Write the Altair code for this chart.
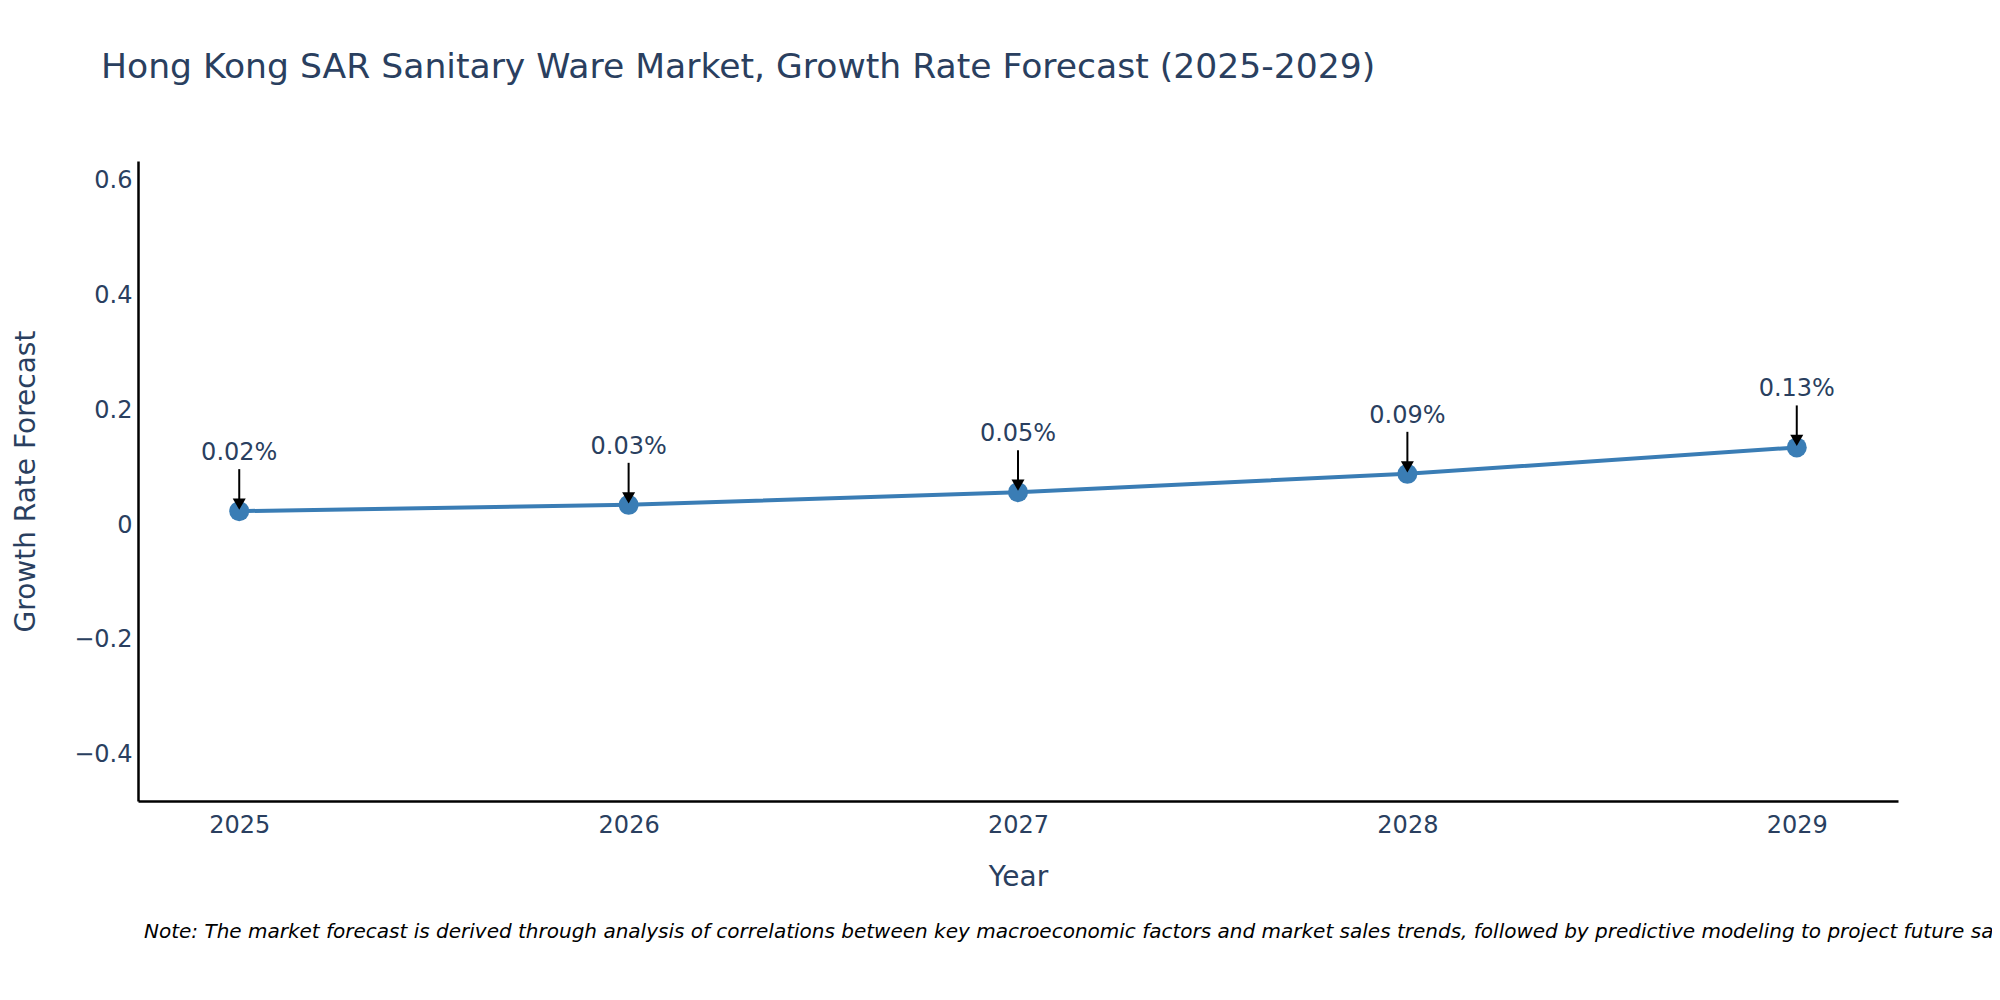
import altair as alt
import pandas as pd

# ---- data ----
years = [2025, 2026, 2027, 2028, 2029]
growth = [0.021, 0.032, 0.054, 0.086, 0.132]
labels = ["0.02%", "0.03%", "0.05%", "0.09%", "0.13%"]
y_ticks = [-0.4, -0.2, 0, 0.2, 0.4, 0.6]
title_text = "Hong Kong SAR Sanitary Ware Market, Growth Rate Forecast (2025-2029)"
note_text = ("Note: The market forecast is derived through analysis of correlations between key "
             "macroeconomic factors and market sales trends, followed by predictive modeling to "
             "project future sales.")

df = pd.DataFrame({"year": years, "growth": growth, "label": labels})
note_df = pd.DataFrame({"t": [note_text]})

FONT = "DejaVu Sans"
LINE_C = "#3a7db5"
TXT_C = "#2a3f5f"

x_enc = alt.X("year:Q",
              scale=alt.Scale(domain=[2024.74, 2029.26], nice=False, zero=False),
              axis=alt.Axis(values=years, format="d", title="Year",
                            labelPadding=12, titlePadding=26))
y_enc = alt.Y("growth:Q",
              scale=alt.Scale(domain=[-0.484, 0.631], nice=False, zero=False),
              axis=alt.Axis(values=y_ticks, format="~g", title="Growth Rate Forecast",
                            labelPadding=6, labelOffset=2, titlePadding=33))

base = alt.Chart(df).encode(x=x_enc, y=y_enc)

line = base.mark_line(color=LINE_C, strokeWidth=4)
pts = base.mark_circle(color=LINE_C, size=400, opacity=1)
shaft = base.mark_rule(color="black", strokeWidth=2, yOffset=-42, y2Offset=-10).encode(
    y2=alt.Y2("growth:Q"))
head = base.mark_point(shape="triangle-down", filled=True, color="black", opacity=1,
                       size=170, yOffset=-7)
txt = base.mark_text(dy=-58, fontSize=24, font=FONT, color=TXT_C).encode(text="label:N")

note = alt.Chart(note_df).mark_text(align="left", baseline="middle", fontSize=20,
                                    fontStyle="italic", font=FONT, color="black").encode(
    x=alt.value(6), y=alt.value(771), text="t:N")

chart = alt.layer(line, pts, shaft, head, txt, note).properties(
    width=1760, height=640,
    title=alt.TitleParams(text=title_text, anchor="start", frame="group", fontSize=34.6,
                          font=FONT, color=TXT_C, fontWeight="normal", dx=-37, offset=75),
    autosize=alt.AutoSizeParams(type="none"),
    padding={"left": 130, "top": 153, "right": 94, "bottom": 191},
    background="white",
).configure_view(stroke="transparent").configure_axis(
    domainColor="black", domainWidth=2.5, ticks=False, grid=False,
    labelFont=FONT, labelFontSize=24, labelColor=TXT_C,
    titleFont=FONT, titleFontSize=28, titleColor=TXT_C, titleFontWeight="normal",
)

chart.save("out.html", embed_options={"renderer": "svg", "actions": False})
